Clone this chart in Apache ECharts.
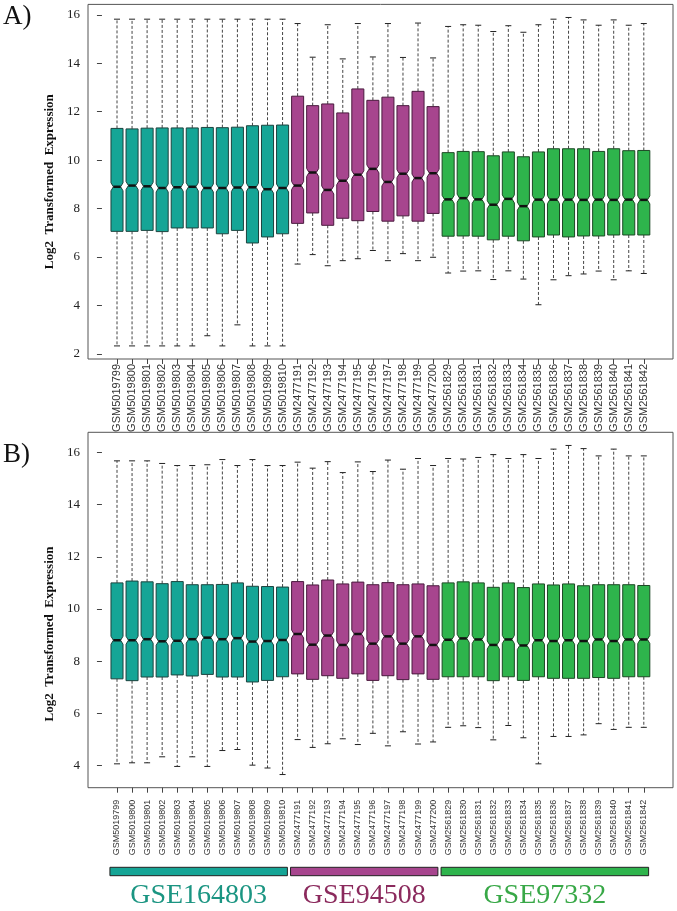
<!DOCTYPE html>
<html><head><meta charset="utf-8">
<script src="https://cdn.jsdelivr.net/npm/echarts@6/dist/echarts.min.js"></script>
<style>html,body{margin:0;padding:0;background:#fff}#c{width:677px;height:911px}</style>
</head><body><div id="c"></div>
<script>
const categories = [
  'GSM5019799','GSM5019800','GSM5019801','GSM5019802','GSM5019803','GSM5019804','GSM5019805','GSM5019806','GSM5019807','GSM5019808','GSM5019809','GSM5019810',
  'GSM2477191','GSM2477192','GSM2477193','GSM2477194','GSM2477195','GSM2477196','GSM2477197','GSM2477198','GSM2477199','GSM2477200',
  'GSM2561829','GSM2561830','GSM2561831','GSM2561832','GSM2561833','GSM2561834','GSM2561835','GSM2561836','GSM2561837','GSM2561838','GSM2561839','GSM2561840','GSM2561841','GSM2561842'
];
const groupNames = ['GSE164803', 'GSE94508', 'GSE97332'];
const groupSizes = [12, 10, 14];
const yTitle = 'Log2  Transformed  Expression';

// Panel A (before normalisation)
const lowA  = [2.33,2.33,2.33,2.33,2.33,2.33,2.75,2.33,3.20,2.33,2.33,2.33, 5.71,6.10,5.64,5.85,5.93,6.27,5.85,6.14,5.85,5.99, 5.34,5.42,5.43,5.07,5.43,5.09,4.03,5.06,5.23,5.30,5.42,5.06,5.43,5.32];
const q1A   = [7.06,7.06,7.10,7.05,7.20,7.20,7.20,6.96,7.10,6.58,6.83,6.96, 7.39,7.82,7.31,7.60,7.50,7.88,7.48,7.70,7.48,7.80, 6.86,6.87,6.86,6.71,6.86,6.67,6.83,6.91,6.83,6.87,6.87,6.91,6.91,6.91];
const medA  = [8.90,8.95,8.92,8.85,8.88,8.90,8.85,8.85,8.87,8.88,8.80,8.85, 8.95,9.49,8.77,9.15,9.40,9.64,9.10,9.44,9.26,9.46, 8.38,8.43,8.38,8.16,8.40,8.10,8.37,8.37,8.37,8.36,8.37,8.36,8.37,8.36];
const q3A   = [11.31,11.29,11.32,11.33,11.33,11.33,11.35,11.34,11.36,11.42,11.44,11.45, 12.64,12.25,12.32,11.95,12.94,12.47,12.60,12.25,12.84,12.21, 10.31,10.36,10.35,10.18,10.34,10.14,10.34,10.47,10.47,10.47,10.36,10.47,10.39,10.40];
const highA = [15.82,15.82,15.82,15.82,15.82,15.82,15.82,15.82,15.82,15.82,15.82,15.82, 15.64,14.25,15.59,14.18,15.64,14.26,15.64,14.24,15.66,14.22, 15.52,15.59,15.57,15.31,15.55,15.28,15.59,15.82,15.89,15.79,15.57,15.79,15.57,15.64];

// Panel B (after normalisation)
const lowB  = [4.06,4.10,4.10,4.33,3.96,4.33,3.96,4.57,4.61,4.01,3.90,3.65, 4.99,4.69,4.83,5.02,4.80,5.23,4.75,5.29,4.82,4.90, 5.46,5.52,5.45,4.98,5.53,5.06,4.06,5.11,5.11,5.17,5.60,5.38,5.46,5.46];
const q1B   = [7.32,7.25,7.39,7.39,7.47,7.43,7.49,7.39,7.39,7.20,7.26,7.40, 7.51,7.30,7.44,7.34,7.51,7.26,7.44,7.29,7.51,7.30, 7.40,7.40,7.40,7.25,7.40,7.26,7.40,7.34,7.34,7.34,7.37,7.34,7.40,7.40];
const medB  = [8.80,8.80,8.84,8.76,8.78,8.84,8.90,8.84,8.88,8.75,8.77,8.81, 9.04,8.63,8.98,8.62,9.04,8.67,8.95,8.67,8.95,8.62, 8.82,8.87,8.83,8.62,8.83,8.60,8.80,8.77,8.80,8.77,8.83,8.77,8.83,8.83];
const q3B   = [11.00,11.07,11.04,10.97,11.05,10.93,10.93,10.94,11.00,10.87,10.86,10.84, 11.05,10.92,11.11,10.96,11.03,10.93,11.01,10.93,10.96,10.89, 11.00,11.04,11.00,10.83,11.00,10.82,10.96,10.92,10.96,10.89,10.93,10.93,10.93,10.90];
const highB = [15.68,15.68,15.68,15.58,15.50,15.50,15.53,15.73,15.50,15.73,15.50,15.50, 15.63,15.40,15.65,15.23,15.64,15.27,15.71,15.36,15.77,15.50, 15.77,15.75,15.81,15.92,15.77,15.92,15.77,16.13,16.27,16.15,15.87,16.13,15.87,15.87];

const yTicksA = [2, 4, 6, 8, 10, 12, 14, 16];
const yTicksB = [4, 6, 8, 10, 12, 14, 16];

const fills   = ['#15a596', '#a7458e', '#2eb44c'];
const borders = ['#1c433e', '#4a1a3e', '#1c4824'];
const textCols = ['#1b9582', '#8b2a5d', '#38a847'];

const groupOf = [];
groupSizes.forEach((n, g) => { for (let k = 0; k < n; k++) groupOf.push(g); });
const idx = categories.map((_, i) => i + 1);

function buildData(lo, q1, md, q3, hi) {
  return categories.map((_, i) => [i + 1, lo[i], q1[i], md[i], q3[i], hi[i], groupOf[i]]);
}

function renderBox(params, api) {
  const x = api.value(0), lo = api.value(1), q1 = api.value(2), md = api.value(3), q3 = api.value(4), hi = api.value(5), g = api.value(6);
  const pMd = api.coord([x, md]);
  const xc = pMd[0], ym = pMd[1];
  const y1 = api.coord([x, q1])[1], y3 = api.coord([x, q3])[1];
  const yl = api.coord([x, lo])[1], yh = api.coord([x, hi])[1];
  const hw = api.size([0.8, 0])[0] / 2;
  const nw = hw * 0.6, nh = 4;
  const xl = xc - hw, xr = xc + hw;
  const pts = [[xl, y3], [xr, y3], [xr, ym - nh], [xc + nw, ym], [xr, ym + nh], [xr, y1], [xl, y1], [xl, ym + nh], [xc - nw, ym], [xl, ym - nh]];
  const dash = { stroke: '#444', lineWidth: 1, lineDash: [3, 2] };
  const cap = { stroke: '#222', lineWidth: 1 };
  return {
    type: 'group',
    children: [
      { type: 'line', shape: { x1: xc, y1: y3, x2: xc, y2: yh }, style: dash },
      { type: 'line', shape: { x1: xc, y1: y1, x2: xc, y2: yl }, style: dash },
      { type: 'line', shape: { x1: xc - hw / 2, y1: yh, x2: xc + hw / 2, y2: yh }, style: cap },
      { type: 'line', shape: { x1: xc - hw / 2, y1: yl, x2: xc + hw / 2, y2: yl }, style: cap },
      { type: 'polygon', shape: { points: pts }, style: { fill: fills[g], stroke: borders[g], lineWidth: 1 } },
      { type: 'line', shape: { x1: xc - nw, y1: ym, x2: xc + nw, y2: ym }, style: { stroke: '#111', lineWidth: 2.5 } }
    ]
  };
}

// legend bars spanning each group
const groupStart = [], groupEnd = [];
{ let s = 1; groupSizes.forEach(n => { groupStart.push(s); groupEnd.push(s + n - 1); s += n; }); }
const legendData = groupNames.map((_, g) => [groupStart[g] - 0.47, groupEnd[g] + 0.32, g]);

function renderLegend(params, api) {
  const x0 = api.value(0), x1 = api.value(1), g = api.value(2);
  const p0 = api.coord([x0, 1]), p1 = api.coord([x1, 0]);
  return {
    type: 'group',
    children: [
      { type: 'rect', shape: { x: p0[0], y: p0[1], width: p1[0] - p0[0], height: p1[1] - p0[1] }, style: { fill: fills[g], stroke: '#222', lineWidth: 1 } },
      { type: 'text', style: { text: groupNames[g], x: (p0[0] + p1[0]) / 2, y: p1[1] + 20, fill: textCols[g], font: '28px "Liberation Serif"', textAlign: 'center', textVerticalAlign: 'middle' } }
    ]
  };
}

const XMIN = -0.927, XMAX = 37.94;
const serif = 'Liberation Serif', sans = 'Liberation Sans';

function xAxisFor(gridIndex, fontSize, margin) {
  return {
    type: 'value', gridIndex, min: XMIN, max: XMAX,
    splitLine: { show: false }, axisLine: { show: false },
    axisTick: { show: true, customValues: idx, length: 5, lineStyle: { color: '#444' } },
    axisLabel: { show: true, customValues: idx, rotate: 90, fontSize, fontFamily: sans, color: '#333', margin,
      formatter: v => categories[Math.round(v) - 1] || '' }
  };
}
function yAxisFor(gridIndex, min, max, ticks, withName) {
  const ax = {
    type: 'value', gridIndex, min, max,
    splitLine: { show: false }, axisLine: { show: false },
    axisTick: { show: true, customValues: ticks, length: 5, lineStyle: { color: '#444' } },
    axisLabel: { show: true, customValues: ticks, fontSize: 13, fontFamily: serif, color: '#222', margin: 8 }
  };
  if (withName) {
    ax.name = yTitle; ax.nameLocation = 'middle'; ax.nameGap = 32;
    ax.nameTextStyle = { fontFamily: serif, fontWeight: 'bold', fontSize: 13, color: '#111' };
  }
  return ax;
}

const chart = echarts.init(document.getElementById('c'), null, { renderer: 'canvas' });
chart.setOption({
  animation: false,
  backgroundColor: '#fff',
  grid: [
    { left: 88, top: 4.4, width: 585, height: 354.6, show: true, borderColor: '#555', borderWidth: 1, backgroundColor: 'transparent' },
    { left: 88, top: 432.3, width: 585, height: 355.4, show: true, borderColor: '#555', borderWidth: 1, backgroundColor: 'transparent' },
    { left: 88, top: 867.3, width: 585, height: 8.4, show: false }
  ],
  xAxis: [
    xAxisFor(0, 11, 5),
    xAxisFor(1, 9, 12),
    { type: 'value', gridIndex: 2, min: XMIN, max: XMAX, show: false }
  ],
  yAxis: [
    yAxisFor(0, 1.79, 16.43, yTicksA, true),
    yAxisFor(1, 3.145, 16.775, yTicksB, false),
    { type: 'value', gridIndex: 2, min: 0, max: 1, show: false }
  ],
  graphic: [
    { type: 'text', left: 3, top: 3, style: { text: 'A)', font: '27px "Liberation Serif"', fill: '#111' } },
    { type: 'text', left: 3, top: 441, style: { text: 'B)', font: '27px "Liberation Serif"', fill: '#111' } },
    { type: 'text', x: 50, y: 634, rotation: Math.PI / 2, style: { text: yTitle, font: 'bold 13px "Liberation Serif"', fill: '#111', textAlign: 'center', textVerticalAlign: 'middle' } }
  ],
  series: [
    { type: 'custom', name: 'A', xAxisIndex: 0, yAxisIndex: 0, renderItem: renderBox, encode: { x: 0, y: [1, 2, 3, 4, 5] }, data: buildData(lowA, q1A, medA, q3A, highA) },
    { type: 'custom', name: 'B', xAxisIndex: 1, yAxisIndex: 1, renderItem: renderBox, encode: { x: 0, y: [1, 2, 3, 4, 5] }, data: buildData(lowB, q1B, medB, q3B, highB) },
    { type: 'custom', name: 'groups', xAxisIndex: 2, yAxisIndex: 2, renderItem: renderLegend, encode: { x: [0, 1], y: 2 }, data: legendData, clip: false }
  ]
});
</script>
</body></html>
